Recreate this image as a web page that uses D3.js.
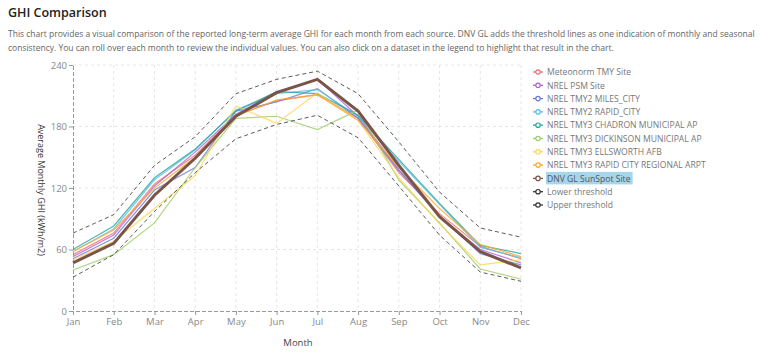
<!DOCTYPE html>
<html><head><meta charset="utf-8">
<script src="https://cdn.jsdelivr.net/npm/d3@7"></script>
<style>
body{margin:0;background:#fff;font-family:"Open Sans","Noto Sans",sans-serif;}
</style></head>
<body>
<svg id="c" width="770" height="363"></svg>
<script>
const months = ["Jan","Feb","Mar","Apr","May","Jun","Jul","Aug","Sep","Oct","Nov","Dec"];
const yTicks = [0,60,120,180,240];
const seriesNames = ["Meteonorm TMY Site","NREL PSM Site","NREL TMY2 MILES_CITY","NREL TMY2 RAPID_CITY","NREL TMY3 CHADRON MUNICIPAL AP","NREL TMY3 DICKINSON MUNICIPAL AP","NREL TMY3 ELLSWORTH AFB","NREL TMY3 RAPID CITY REGIONAL ARPT","DNV GL SunSpot Site","Lower threshold","Upper threshold"];
const meteonorm   = [55,76,124,152,191,205,211,188,135,95,63,51];
const nrelPsm     = [53,74,122,155,192,214,226,190,138,92,60,47];
const tmy2Miles   = [51,71,118,140,195,204,217,188,137,93,56,45];
const tmy2Rapid   = [58,80,128,157,196,212,216,190,146,104,62,52];
const tmy3Chadron = [60,83,130,158,195,214,212,191,148,105,64,56];
const tmy3Dickinson = [40,55,86,140,188,190,177,196,128,86,41,31];
const tmy3Ellsworth = [50,68,100,132,200,183,213,186,130,85,45,50];
const tmy3RapidArpt = [58,79,120,150,190,206,211,186,140,100,65,53];
const sunspot     = [47,66,113,149,190,213,226,195,142,92,58,42];
const lowerThr    = [33,55,97,135,168,182,191,169,122,74,38,29];
const upperThr    = [76,94,142,170,212,226,234,212,165,116,81,72];
const seriesValues = [meteonorm,nrelPsm,tmy2Miles,tmy2Rapid,tmy3Chadron,tmy3Dickinson,tmy3Ellsworth,tmy3RapidArpt,sunspot,lowerThr,upperThr];
const colors = ["#f26d6d","#b05fd0","#6a7bd4","#55bdf0","#26a69a","#9ccc65","#ffd54f","#ffa726","#795548","#333","#333"];

const svg = d3.select("#c");
svg.append("text").attr("x",8).attr("y",17).attr("font-size",12.5).attr("font-weight",600).attr("fill","#222").text("GHI Comparison");
const desc = ["This chart provides a visual comparison of the reported long-term average GHI for each month from each source. DNV GL adds the threshold lines as one indication of monthly and seasonal",
"consistency. You can roll over each month to review the individual values. You can also click on a dataset in the legend to highlight that result in the chart."];
svg.selectAll("text.desc").data(desc).enter().append("text").attr("class","desc")
  .attr("x",8).attr("y",(d,i)=>36.5+i*14).attr("font-size",8.5).attr("fill","#666").text(d=>d);

const L=73,R=521,T=65,B=311;
const x = d3.scalePoint().domain(months).range([L,R]);
const y = d3.scaleLinear().domain([0,240]).range([B,T]);

// grid
const g = svg.append("g");
g.selectAll("line.vg").data(months.slice(1)).enter().append("line")
  .attr("x1",d=>x(d)).attr("x2",d=>x(d)).attr("y1",T).attr("y2",B)
  .attr("stroke","#e6e6e6").attr("stroke-dasharray","3,3");
g.selectAll("line.hg").data(yTicks.slice(1)).enter().append("line")
  .attr("x1",L).attr("x2",R).attr("y1",d=>y(d)).attr("y2",d=>y(d))
  .attr("stroke","#e6e6e6").attr("stroke-dasharray","3,3");

// axes
const ax = svg.append("g").attr("transform",`translate(0,${B})`).call(d3.axisBottom(x).tickSize(4).tickPadding(3));
const ay = svg.append("g").attr("transform",`translate(${L},0)`).call(d3.axisLeft(y).tickValues(yTicks).tickSize(4).tickPadding(2));
[ax,ay].forEach(a=>{
  a.select(".domain").attr("stroke","#999").attr("stroke-dasharray","4,2");
  a.selectAll(".tick line").attr("stroke","#999");
  a.selectAll(".tick text").attr("fill","#888").attr("font-size",9.5).attr("font-family","'Open Sans',sans-serif");
});

svg.append("text").attr("x",298).attr("y",346).attr("text-anchor","middle").attr("font-size",9.5).attr("fill","#444").text("Month");
svg.append("text").attr("transform","translate(38,190) rotate(90)").attr("text-anchor","middle").attr("font-size",9).attr("fill","#333").text("Average Monthly GHI (kWh/m2)");

const line = d3.line().x((d,i)=>x(months[i])).y(d=>y(d));
const order = [0,1,2,3,4,5,6,7,9,10,8];
order.forEach(i=>{
  const isThr = i>=9, isMain = i===8;
  svg.append("path").datum(seriesValues[i]).attr("d",line).attr("fill","none")
    .attr("stroke",colors[i])
    .attr("stroke-width",isMain?3:(isThr?1:1.2))
    .attr("stroke-opacity",isMain?1:(isThr?0.8:0.8))
    .attr("stroke-dasharray",isThr?"4,3":null);
});

// legend
const lg = svg.append("g");
seriesNames.forEach((n,i)=>{
  const yy = 72+i*13.3;
  const hl = lg.append("g");
  lg.append("line").attr("x1",533).attr("x2",543).attr("y1",yy).attr("y2",yy).attr("stroke",colors[i]).attr("stroke-width",1.3);
  lg.append("circle").attr("cx",538).attr("cy",yy).attr("r",2.2).attr("fill","#fff").attr("stroke",colors[i]).attr("stroke-width",1.2);
  const t = lg.append("text").attr("x",547).attr("y",yy+3.2).attr("font-size",8.6).attr("fill",i===8?"#555":"#777").text(n);
  if(i===8){
    const bb = t.node().getBBox();
    hl.append("rect").attr("x",bb.x-1).attr("y",yy-6.5).attr("width",bb.width+3).attr("height",12.5).attr("fill","#a6d6ec");
  }
});
</script>
</body></html>
